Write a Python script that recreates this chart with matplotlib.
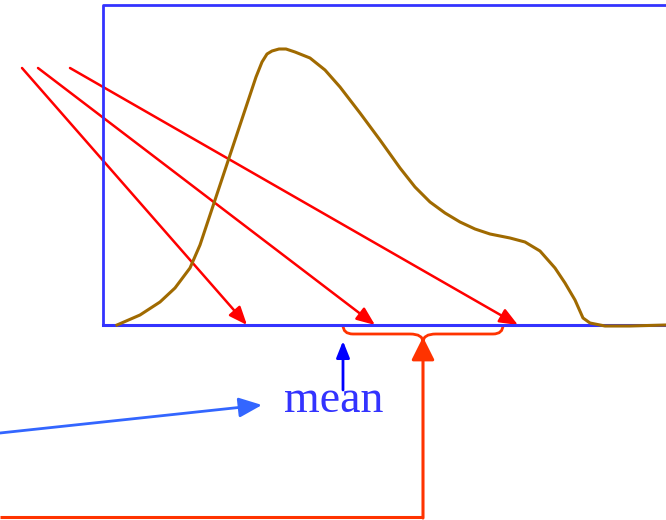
import matplotlib
matplotlib.use("Agg")
import matplotlib.pyplot as plt
from matplotlib.patches import FancyArrowPatch, PathPatch
from matplotlib.path import Path

# density curve (pixel coordinates of the picture)
curve_x = [117, 140, 160, 175, 190, 200, 210, 220, 230, 240, 250, 256, 262, 267, 272, 279, 286,
           295, 310, 325, 340, 360, 380, 400, 415, 430, 445, 460, 475, 490, 510, 525,
           540, 555, 565, 575, 583, 590, 605, 630, 666]
curve_y = [325, 315, 302, 288, 268, 245, 215, 185, 155, 125, 95, 77, 62, 54, 51, 49, 49,
           52, 58, 70, 87, 113, 140, 168, 187, 202, 213, 222, 229, 234, 238, 242,
           251, 268, 283, 300, 318, 323, 326, 326, 325]

# red arrows: start and end points
arrow_start_x = [22, 38, 70]
arrow_start_y = [68, 68, 68]
arrow_end_x = [247, 375, 518]
arrow_end_y = [325, 325, 325]

label_text = "mean"

W, H = 666, 520
fig = plt.figure(figsize=(W / 100, H / 100), dpi=100)
ax = fig.add_axes([0, 0, 1, 1])
ax.set_xlim(0, W)
ax.set_ylim(H, 0)
ax.axis("off")

blue = "#3333ff"
red = "#ff0000"
orange = "#ff3300"

# box
ax.plot([103, 103, 700], [325, 5, 5], color=blue, lw=2, solid_capstyle="butt")
ax.plot([103, 700], [325, 325], color=blue, lw=2.2)

# curve
ax.plot(curve_x, curve_y, color="#a06a00", lw=2.2, solid_joinstyle="round")

# red arrows
for x0, y0, x1, y1 in zip(arrow_start_x, arrow_start_y, arrow_end_x, arrow_end_y):
    ax.add_patch(FancyArrowPatch((x0, y0), (x1, y1), arrowstyle="-|>,head_length=11,head_width=4.5",
                                 color=red, lw=1.8, mutation_scale=1, shrinkA=0, shrinkB=0))

# brace
verts = [(343, 325), (343, 334), (353, 334), (410, 334),
         (423, 334), (423, 342),
         (423, 334), (436, 334), (493, 334),
         (503, 334), (503, 325)]
codes = [Path.MOVETO, Path.CURVE3, Path.CURVE3, Path.LINETO,
         Path.CURVE3, Path.CURVE3,
         Path.CURVE3, Path.CURVE3, Path.LINETO,
         Path.CURVE3, Path.CURVE3]
ax.add_patch(PathPatch(Path(verts, codes), fill=False, edgecolor=orange, lw=2))

# orange elbow arrow
ax.plot([0, 423], [517, 517], color=orange, lw=2.2, solid_capstyle="butt")
ax.add_patch(FancyArrowPatch((423, 518), (423, 337), arrowstyle="-|>,head_length=14,head_width=7",
                             color=orange, lw=2.2, mutation_scale=1, shrinkA=0, shrinkB=0))

# blue up arrow
ax.add_patch(FancyArrowPatch((343, 390), (343, 341), arrowstyle="-|>,head_length=10,head_width=4",
                             color="#0000ff", lw=2, mutation_scale=1, shrinkA=0, shrinkB=0))

# light blue arrow to label
ax.add_patch(FancyArrowPatch((0, 433), (262, 405), arrowstyle="-|>,head_length=14,head_width=6",
                             color="#3366ff", lw=2, mutation_scale=1, shrinkA=0, shrinkB=0))

ax.text(334, 401, label_text, color=blue, fontsize=33, family="Liberation Serif",
        ha="center", va="center")

fig.savefig("out.png", dpi=100)
